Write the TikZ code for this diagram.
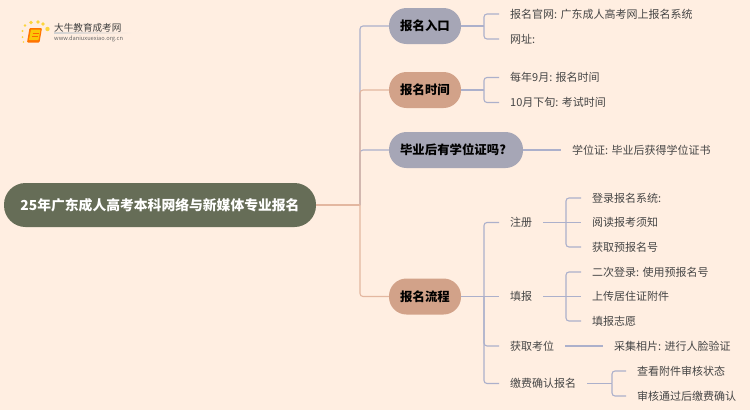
\documentclass[tikz,border=0pt]{standalone}
\usepackage{fontspec}
\setmainfont{Noto Sans CJK SC}
\definecolor{bgc}{HTML}{FFEEE1}
\definecolor{rootc}{HTML}{666D57}
\definecolor{bluec}{HTML}{A6A6B6}
\definecolor{tanc}{HTML}{D2A289}
\definecolor{linet}{HTML}{E3B7A0}
\definecolor{lineb}{HTML}{ACB0CB}
\definecolor{txtc}{HTML}{454545}
\tikzset{
  x=1pt,y=-1pt,
  pill/.style={rounded corners=17.5pt,minimum height=36pt,inner sep=0pt,font=\fontsize{12.4}{15}\selectfont\bfseries,text=black,draw=none},
  pillb/.style={pill,fill=bluec},
  pillt/.style={pill,fill=tanc},
  leaf/.style={anchor=west,inner xsep=11pt,inner ysep=0pt,text=txtc,font=\fontsize{11}{13}\selectfont},
  conb/.style={draw=lineb,line width=1.1pt,rounded corners=3pt},
  cont/.style={draw=linet,line width=1.1pt,rounded corners=3pt},
}
\begin{document}
\begin{tikzpicture}
\fill[bgc] (0,0) rectangle (750,410);
\useasboundingbox (0,0) rectangle (750,410);
% logo
\foreach \a/\b/\r in {23.5/42/0.8,22.5/37/1,22.5/31/1.2,25/25.5/1.4,31/22.5/1.8,38/22/1.8,43/24/1.9,47.5/29/2.2}
  \fill[yellow!65!orange,opacity=.75] (\a,\b) circle (\r);
\fill[orange!90!red,rounded corners=1pt] (29.5,28) -- (42,28) -- (39.5,42.5) -- (27,42.5) -- cycle;
\fill[yellow!60!orange,rounded corners=.5pt] (31,29.5) -- (40.5,29.5) -- (38.5,40) -- (29,40) -- cycle;
\draw[orange!80!red,line width=.6pt] (32.5,33) -- (38.5,33) (32,36) -- (38,36);
\node[anchor=west,inner sep=0pt,text=black!75] (logot) at (54,27.5) {\fontsize{9.6}{11}\selectfont 大牛教育成考网};
\node[anchor=west,inner sep=0pt,text=black!60] (logou) at (54,38.5) {\fontsize{5.7}{7}\selectfont www.daniuxuexiao.org.cn};
\shade[left color=black!18,right color=bgc] (54,32.8) rectangle (132,33.4);
% main nodes
\node[pill,fill=rootc,text=white,font=\fontsize{13.8}{16}\selectfont\bfseries,minimum width=312pt,minimum height=44pt,rounded corners=21.5pt] (root) at (160,205) {25年广东成人高考本科网络与新媒体专业报名};
\node[pillb,minimum width=72pt] (p1) at (425,26) {报名入口};
\node[pillt,minimum width=72pt] (p2) at (425,90) {报名时间};
\node[pillb,minimum width=134pt] (p3) at (456,150) {毕业后有学位证吗?\hbox to 6pt{}};
\node[pillt,minimum width=72pt] (p4) at (425,296.5) {报名流程};
% leaves
\node[leaf] (a1) at (499,14) {报名官网: 广东成人高考网上报名系统};
\node[leaf] (a2) at (499,39) {网址:};
\node[leaf] (b1) at (499,77.5) {每年9月: 报名时间};
\node[leaf] (b2) at (499,102.5) {10月下旬: 考试时间};
\node[leaf] (c1) at (561,150) {学位证: 毕业后获得学位证书};
\node[leaf] (d1) at (499,222.5) {注册};
\node[leaf] (d2) at (499,296.5) {填报};
\node[leaf] (d3) at (499,346) {获取考位};
\node[leaf] (d4) at (499,383.5) {缴费确认报名};
\node[leaf] (e1) at (581,198) {登录报名系统:};
\node[leaf] (e2) at (581,222.5) {阅读报考须知};
\node[leaf] (e3) at (581,247) {获取预报名号};
\node[leaf] (f1) at (581,272) {二次登录: 使用预报名号};
\node[leaf] (f2) at (581,296.5) {上传居住证附件};
\node[leaf] (f3) at (581,321) {填报志愿};
\node[leaf] (g1) at (603,346) {采集相片: 进行人脸验证};
\node[leaf] (h1) at (626,371) {查看附件审核状态};
\node[leaf] (h2) at (626,396) {审核通过后缴费确认};
% junctions
\coordinate (js) at (360,205);
\coordinate (j1) at (484,26);
\coordinate (j2) at (484,90);
\coordinate (j4) at (484,296.5);
\coordinate (jd) at (566,222.5);
\coordinate (jf) at (566,296.5);
\coordinate (jh) at (612,383.5);
% spine
\draw[conb] (js) |- (p1.west);
\draw[conb] (js) |- (p3.west);
\draw[cont] (root.east) -- (js);
\draw[cont] (js) |- (p2.west);
\draw[cont] (js) |- (p4.west);
% branches
\draw[conb] (p1.east) -- (j1);
\draw[conb] (j1) |- (a1.west);
\draw[conb] (j1) |- (a2.west);
\draw[conb] (p2.east) -- (j2);
\draw[conb] (j2) |- (b1.west);
\draw[conb] (j2) |- (b2.west);
\draw[conb] (p3.east) -- (c1.west);
\draw[conb] (p4.east) -- (j4);
\draw[conb] (j4) |- (d1.west);
\draw[conb] (j4) -- (d2.west);
\draw[conb] (j4) |- (d3.west);
\draw[conb] (j4) |- (d4.west);
\draw[conb] (d1.east) -- (jd);
\draw[conb] (jd) |- (e1.west);
\draw[conb] (jd) -- (e2.west);
\draw[conb] (jd) |- (e3.west);
\draw[conb] (d2.east) -- (jf);
\draw[conb] (jf) |- (f1.west);
\draw[conb] (jf) -- (f2.west);
\draw[conb] (jf) |- (f3.west);
\draw[conb] (d3.east) -- (g1.west);
\draw[conb] (d4.east) -- (jh);
\draw[conb] (jh) |- (h1.west);
\draw[conb] (jh) |- (h2.west);
\end{tikzpicture}
\end{document}
